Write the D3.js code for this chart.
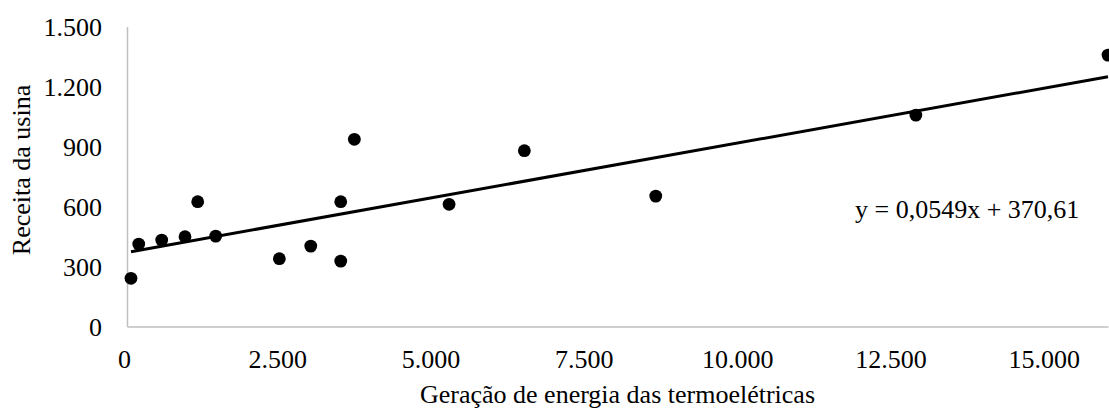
<!DOCTYPE html>
<html>
<head>
<meta charset="utf-8">
<script src="https://cdn.jsdelivr.net/npm/d3@7"></script>
<style>
  html, body { margin: 0; padding: 0; background: #fff; }
  svg { display: block; }
  text { font-family: "Liberation Serif", "Times New Roman", serif; fill: #000; }
</style>
</head>
<body>
<svg id="chart" width="1109" height="410"></svg>
<script>
// Data
const geracao = [65, 191, 566, 946, 1153, 1447, 2485, 2997, 3486, 3486, 3708, 5253, 6481, 8624, 12866, 16000];
const receita = [241, 412, 432, 449, 624, 452, 339, 402, 624, 327, 936, 611, 879, 652, 1057, 1357];
const xTicks = [0, 2500, 5000, 7500, 10000, 12500, 15000];
const yTicks = [0, 300, 600, 900, 1200, 1500];
const trendSlope = 0.0549;
const trendIntercept = 370.61;
const equationLabel = "y = 0,0549x + 370,61";
const xTitle = "Geração de energia das termoelétricas";
const yTitle = "Receita da usina";

const fmt = d => d3.format(",")(d).replace(/,/g, ".");

const svg = d3.select("#chart");
const x = d3.scaleLinear().domain([0, 16000]).range([127, 1108]);
const y = d3.scaleLinear().domain([0, 1500]).range([326.5, 26.5]);

// Axes
const xAxis = d3.axisBottom(x).tickValues(xTicks).tickFormat(fmt).tickSize(0).tickPadding(0);
const gx = svg.append("g").attr("transform", `translate(0,${y(0)})`).call(xAxis);
gx.select(".domain").attr("stroke", "#bfbfbf").attr("stroke-width", 1.5);
gx.selectAll("text").attr("font-size", 26).attr("dy", null).attr("y", 41).attr("dx", -3)
  .style("font-family", '"Liberation Serif", serif');

const yAxis = d3.axisLeft(y).tickValues(yTicks).tickFormat(fmt).tickSize(0).tickPadding(0);
const gy = svg.append("g").attr("transform", `translate(${x(0)},0)`).call(yAxis);
gy.select(".domain").attr("stroke", "#bfbfbf").attr("stroke-width", 1.5);
gy.selectAll("text").attr("font-size", 26).attr("x", -25).attr("dy", "0.35em")
  .style("font-family", '"Liberation Serif", serif');

// Trend line
const xs = d3.extent(geracao);
svg.append("path")
  .datum(xs.map(v => [v, trendSlope * v + trendIntercept]))
  .attr("d", d3.line().x(d => x(d[0])).y(d => y(d[1])))
  .attr("stroke", "#000").attr("stroke-width", 3).attr("fill", "none");

// Points
svg.append("g").selectAll("circle")
  .data(geracao.map((g, i) => [g, receita[i]]))
  .join("circle")
  .attr("cx", d => x(d[0])).attr("cy", d => y(d[1])).attr("r", 6.4)
  .attr("fill", "#000");

// Equation
svg.append("text").attr("x", 855).attr("y", 218).attr("font-size", 26).text(equationLabel);

// Axis titles
svg.append("text").attr("x", (x.range()[0] + x.range()[1]) / 2).attr("y", 403)
  .attr("text-anchor", "middle").attr("font-size", 26).text(xTitle);
svg.append("text").attr("transform", "translate(30,170) rotate(-90)")
  .attr("text-anchor", "middle").attr("font-size", 26).text(yTitle);
</script>
</body>
</html>
